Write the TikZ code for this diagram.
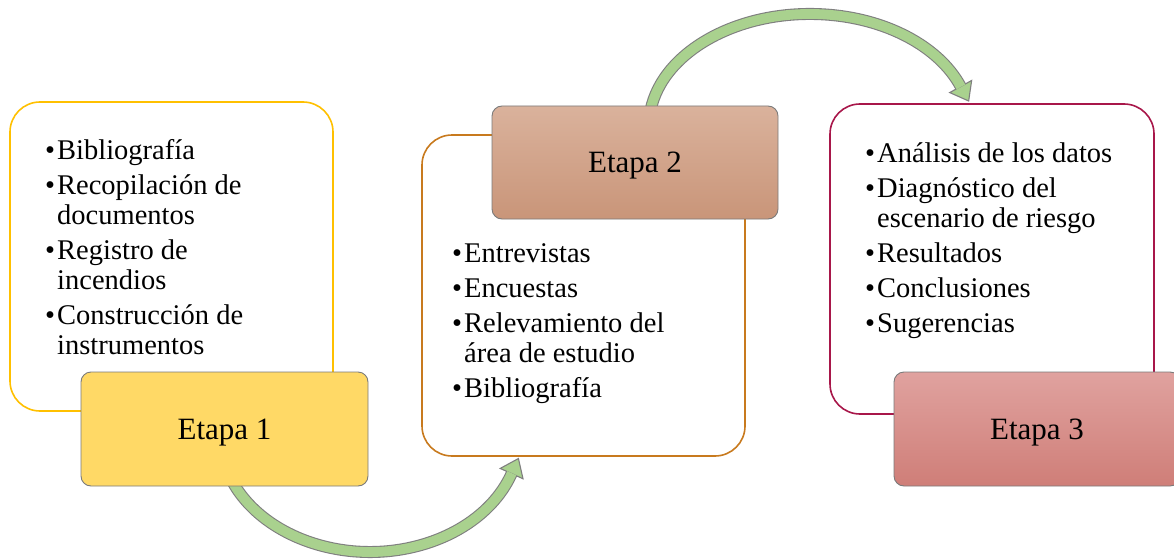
\documentclass[tikz,border=0pt]{standalone}
\usepackage{fontspec}
\setmainfont{Liberation Serif}
\usetikzlibrary{arrows.meta}
\definecolor{goldline}{HTML}{FFC000}
\definecolor{ochreline}{HTML}{C87A1E}
\definecolor{crimsonline}{HTML}{A8174A}
\definecolor{eonefill}{HTML}{FFD966}
\definecolor{etwotop}{HTML}{DAB29C}
\definecolor{etwobot}{HTML}{C99579}
\definecolor{ethreetop}{HTML}{E0A29F}
\definecolor{ethreebot}{HTML}{CF7E78}
\definecolor{arrgreen}{HTML}{A9D18E}
\definecolor{arrgray}{HTML}{7F7F7F}
\definecolor{edgegray}{HTML}{7A7A7A}
\newcommand{\bitem}[1]{\par\hangindent=12pt\hangafter=1\noindent\makebox[12pt][l]{\textbullet}#1}
\tikzset{
  listbox/.style={rectangle, rounded corners=30pt, line width=1.6pt, fill=white, inner sep=0pt},
  stagebox/.style={rectangle, rounded corners=10pt, draw=edgegray, line width=0.9pt, inner sep=0pt,
    text depth=0pt, font=\fontsize{31}{36}\selectfont},
  listtext/.style={anchor=base west, inner sep=0pt, font=\fontsize{28.5}{30}\selectfont},
  arrowborder/.style={draw=arrgray, line width=12pt,
    -{Triangle[width=27pt,length=18pt,line width=1.1pt,fill=arrgreen,color=arrgray]}},
  arrowfill/.style={draw=arrgreen, line width=9.8pt, shorten >=17pt}
}
\begin{document}
\begin{tikzpicture}[x=1pt,y=-1pt]
\useasboundingbox (0,0) rectangle (1174,559);
\clip (0,0) rectangle (1174,559);
% white list boxes
\node[listbox, draw=goldline, minimum width=323pt, minimum height=309pt] (b1) at (171.5,256.5) {};
\node[listbox, draw=ochreline, minimum width=323pt, minimum height=321pt] (b2) at (583.5,295.5) {};
\node[listbox, draw=crimsonline, minimum width=324pt, minimum height=310pt] (b3) at (992,259) {};
% curved arrows
\coordinate (a1s) at (229.05,475.0);
\coordinate (a1t) at (518.8,457.7);
\coordinate (a2s) at (649.6,116.2);
\coordinate (a2t) at (969.1,101.8);
\draw[arrowborder] (a1s) arc[start angle=-160, end angle=-19.5, x radius=150pt, y radius=117pt] -- (a1t);
\draw[arrowfill] (a1s) arc[start angle=-160, end angle=-19.5, x radius=150pt, y radius=117pt] -- (a1t);
\draw[arrowborder] (a2s) arc[start angle=175, end angle=20.9, x radius=161pt, y radius=112pt] -- (a2t);
\draw[arrowfill] (a2s) arc[start angle=175, end angle=20.9, x radius=161pt, y radius=112pt] -- (a2t);
% stage boxes
\node[stagebox, fill=eonefill, minimum width=287pt, minimum height=114pt] (e1) at (224.5,429) {Etapa 1};
\node[stagebox, top color=etwotop, bottom color=etwobot, minimum width=286pt, minimum height=113pt] (e2) at (635,162.5) {Etapa 2};
\node[stagebox, top color=ethreetop, bottom color=ethreebot, minimum width=286pt, minimum height=114pt] (e3) at (1037,429) {Etapa 3};
% lists
\node[listtext] (t1) at (45,159) {\begin{minipage}[t]{270pt}\setlength{\parskip}{5pt}%
\bitem{Bibliografía}\bitem{Recopilación de\\documentos}\bitem{Registro de\\incendios}\bitem{Construcción de\\instrumentos}\end{minipage}};
\node[listtext] (t2) at (452,262) {\begin{minipage}[t]{270pt}\setlength{\parskip}{5pt}%
\bitem{Entrevistas}\bitem{Encuestas}\bitem{Relevamiento del\\área de estudio}\bitem{Bibliografía}\end{minipage}};
\node[listtext] (t3) at (865,162) {\begin{minipage}[t]{290pt}\setlength{\parskip}{5pt}%
\bitem{Análisis de los datos}\bitem{Diagnóstico del\\escenario de riesgo}\bitem{Resultados}\bitem{Conclusiones}\bitem{Sugerencias}\end{minipage}};
\end{tikzpicture}
\end{document}
